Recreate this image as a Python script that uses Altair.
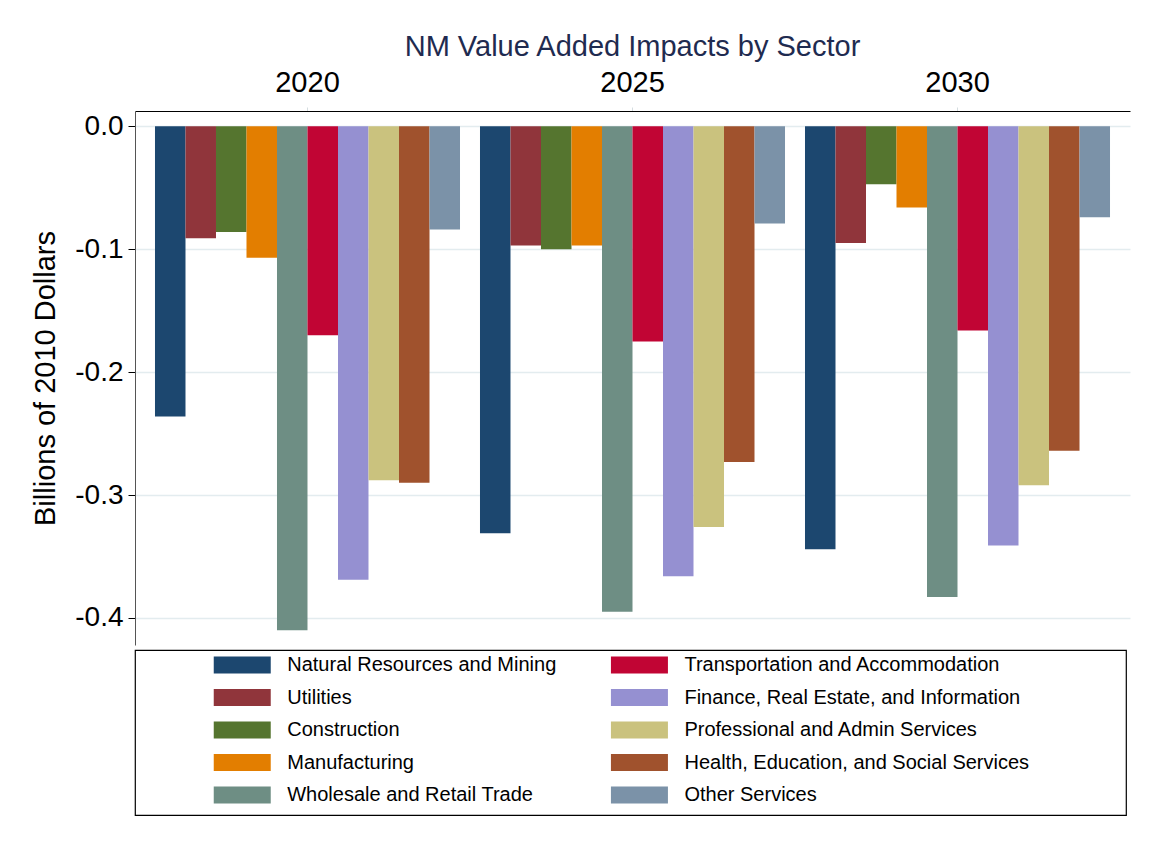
import altair as alt
import pandas as pd

years = ["2020", "2025", "2030"]
sectors = [
    "Natural Resources and Mining",
    "Utilities",
    "Construction",
    "Manufacturing",
    "Wholesale and Retail Trade",
    "Transportation and Accommodation",
    "Finance, Real Estate, and Information",
    "Professional and Admin Services",
    "Health, Education, and Social Services",
    "Other Services",
]
colors = ["#1c476f", "#90353b", "#55752f", "#e37e00", "#6e8e84",
          "#c10534", "#9590d1", "#cac27e", "#a0522d", "#7b92a8"]
v2020 = [-0.236, -0.091, -0.086, -0.107, -0.410, -0.170, -0.369, -0.288, -0.290, -0.084]
v2025 = [-0.331, -0.097, -0.100, -0.097, -0.395, -0.175, -0.366, -0.326, -0.273, -0.079]
v2030 = [-0.344, -0.095, -0.047, -0.066, -0.383, -0.166, -0.341, -0.292, -0.264, -0.074]
y_ticks = [-0.4, -0.3, -0.2, -0.1, 0.0]

rows = []
for yr, vals in zip(years, [v2020, v2025, v2030]):
    for s, v in zip(sectors, vals):
        rows.append({"year": yr, "sector": s, "value": v})
df = pd.DataFrame(rows)

leg = pd.DataFrame({
    "sector": sectors,
    "col": [i // 5 for i in range(len(sectors))],
    "row": [i % 5 for i in range(len(sectors))],
})

FONT = "Liberation Sans"

main = alt.Chart(df).mark_bar().encode(
    x=alt.X("year:N", sort=years,
            scale=alt.Scale(paddingInner=0.0615, paddingOuter=0.0615),
            axis=alt.Axis(orient="top", title=None, labelAngle=0, labelFontSize=29,
                          labelColor="black", labelPadding=10, domainColor="black",
                          domainWidth=1.2, tickColor="#d5dde0", tickSize=4, grid=False)),
    xOffset=alt.XOffset("sector:N", sort=sectors,
                        scale=alt.Scale(paddingInner=0, paddingOuter=0)),
    y=alt.Y("value:Q",
            scale=alt.Scale(domain=[-0.422, 0.0125], nice=False),
            axis=alt.Axis(values=y_ticks, title="Billions of 2010 Dollars",
                          titleFontSize=29, titleFontWeight="normal", titleColor="black",
                          titlePadding=14,
                          labelExpr="datum.value < 0 ? '-' + format(-datum.value, '.1f') : format(datum.value, '.1f')",
                          labelFontSize=28, labelColor="black", labelPadding=5,
                          tickColor="black", tickSize=7, domainColor="#555555",
                          gridColor="#e3ecef", gridWidth=1.3)),
    color=alt.Color("sector:N", scale=alt.Scale(domain=sectors, range=colors), legend=None),
).properties(
    width=995, height=534,
    title=alt.TitleParams(text="NM Value Added Impacts by Sector", fontSize=29,
                          fontWeight="normal", color="#1f2b50", anchor="middle",
                          frame="group", offset=6),
)

lx = alt.X("col:Q", scale=alt.Scale(domain=[-0.27, 2.225]), axis=None)
ly = alt.Y("row:O", scale=alt.Scale(type="point", padding=0.538, align=0.43), axis=None)

leg_sym = alt.Chart(leg).mark_point(
    shape="M-1,-0.3H1V0.3H-1Z", size=3249, filled=True, opacity=1, strokeWidth=0
).encode(
    x=lx, y=ly,
    color=alt.Color("sector:N", scale=alt.Scale(domain=sectors, range=colors), legend=None),
)
leg_txt = alt.Chart(leg).mark_text(
    align="left", baseline="middle", dx=45, fontSize=20, color="black"
).encode(x=lx, y=ly, text="sector:N")

legend_chart = alt.layer(leg_sym, leg_txt).properties(
    width=991, height=165,
    view=alt.ViewBackground(stroke="black", strokeWidth=1.2),
)

chart = alt.vconcat(main, legend_chart, spacing=5, bounds="flush").properties(
    padding={"left": 23, "top": 25, "right": 5, "bottom": 5}
).configure(font=FONT).configure_view(strokeWidth=0)

chart.save("out.html", embed_options={"renderer": "svg", "actions": False})
